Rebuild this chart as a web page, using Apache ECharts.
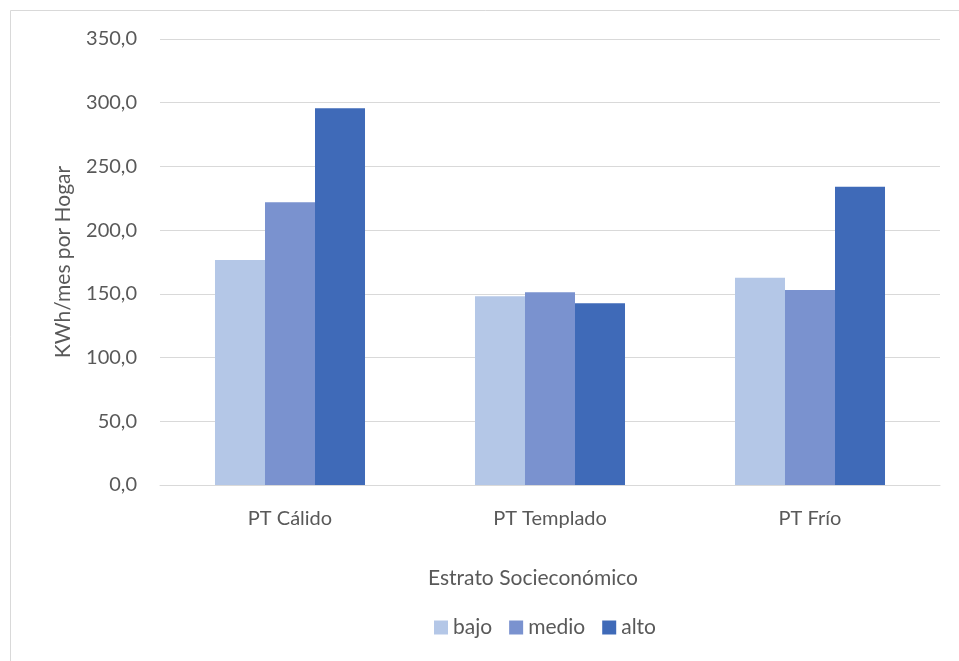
<!DOCTYPE html>
<html>
<head>
<meta charset="utf-8">
<script src="https://cdn.jsdelivr.net/npm/echarts@6/dist/echarts.min.js"></script>
<style>
  html, body { margin: 0; padding: 0; background: #fff; }
  #chart { width: 959px; height: 661px; }
</style>
</head>
<body>
<div id="chart"></div>
<script>
// Consumo eléctrico mensual por hogar, por piso térmico y estrato
const categories = ['PT Cálido', 'PT Templado', 'PT Frío'];
const seriesNames = ['bajo', 'medio', 'alto'];
const bajo = [176.6, 148.2, 162.7];
const medio = [221.9, 151.3, 153.1];
const alto = [295.7, 142.6, 234.1];
const colors = ['#B4C7E7', '#7A92CF', '#3F6AB8'];

const FONT = 'Lato, "Open Sans", sans-serif';
const TEXT = '#595959';

const chart = echarts.init(document.getElementById('chart'), null, { renderer: 'canvas' });

const values = [bajo, medio, alto];

chart.setOption({
  animation: false,
  backgroundColor: '#fff',
  textStyle: { fontFamily: FONT },
  grid: { left: 160, right: 19, top: 39, bottom: 176, containLabel: false },
  legend: {
    data: seriesNames,
    left: 429, top: 612,
    itemWidth: 14, itemHeight: 14, itemGap: 17,
    icon: 'rect',
    textStyle: { color: TEXT, fontSize: 21, fontFamily: FONT }
  },
  xAxis: {
    type: 'category',
    data: categories,
    axisLine: { lineStyle: { color: '#D9D9D9', width: 1 } },
    axisTick: { show: false },
    axisLabel: { color: TEXT, fontSize: 20, fontFamily: FONT, margin: 24 }
  },
  yAxis: {
    type: 'value',
    min: 0, max: 350, interval: 50,
    name: 'KWh/mes por Hogar',
    nameLocation: 'middle',
    nameGap: 86,
    nameRotate: 90,
    nameTextStyle: { color: TEXT, fontSize: 21, fontFamily: FONT },
    axisLine: { show: false },
    axisTick: { show: false },
    splitLine: { lineStyle: { color: '#D9D9D9', width: 1 } },
    axisLabel: {
      color: TEXT, fontSize: 20, fontFamily: FONT, margin: 23,
      formatter: v => v.toFixed(1).replace('.', ',')
    }
  },
  series: seriesNames.map((name, i) => ({
    name,
    type: 'bar',
    data: values[i],
    barGap: '0%',
    barCategoryGap: '42.3%',
    itemStyle: { color: colors[i] }
  })),
  graphic: [
    {
      type: 'rect', silent: true, z: -1,
      shape: { x: 10.5, y: 10.5, width: 960, height: 660 },
      style: { fill: 'none', stroke: '#D9D9D9', lineWidth: 1 }
    },
    {
      type: 'text', x: 533, y: 578,
      style: {
        text: 'Estrato Socieconómico', fill: TEXT, font: '21px ' + FONT,
        align: 'center', verticalAlign: 'middle'
      }
    }
  ]
});
</script>
</body>
</html>
